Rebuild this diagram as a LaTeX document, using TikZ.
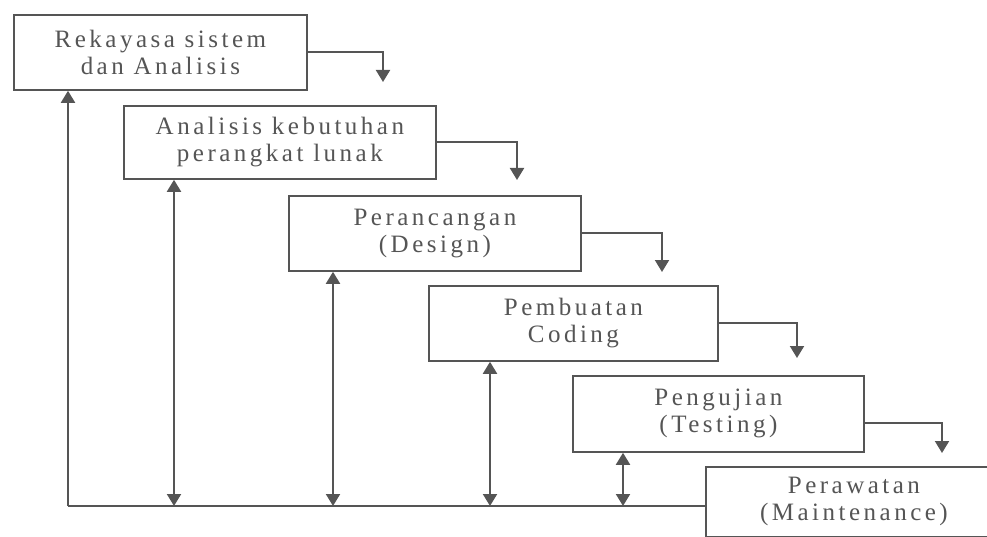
\documentclass[tikz,border=0pt]{standalone}
\usepackage{fontspec}
\setmainfont{Liberation Serif}
\newfontfamily\boxfont[LetterSpace=14]{Liberation Serif}
\usetikzlibrary{arrows.meta}
\definecolor{ink}{HTML}{555555}
\definecolor{txt}{HTML}{555555}
\begin{document}
\begin{tikzpicture}[x=1pt,y=-1pt,
  phase/.style={draw=ink, line width=1.8pt, fill=white, anchor=north west,
    inner sep=0pt, align=center, text=txt,
    font=\boxfont\fontsize{25}{27}\selectfont},
  flow/.style={draw=ink, line width=2pt,
    -{Triangle[width=14pt,length=12pt]}},
  both/.style={draw=ink, line width=2pt,
    {Triangle[width=14pt,length=12pt]}-{Triangle[width=14pt,length=12pt]}},
  link/.style={draw=ink, line width=2pt}]
\useasboundingbox (0,0) rectangle (987,537);
\clip (0,0) rectangle (987,537);

% the six phases, stepping down to the right
\node[phase, minimum width=293pt, minimum height=75pt] (b1) at (13,14)
  {Rekayasa sistem\\dan Analisis};
\node[phase, minimum width=312pt, minimum height=73pt] (b2) at (123,105)
  {Analisis kebutuhan\\perangkat lunak};
\node[phase, minimum width=292pt, minimum height=75pt] (b3) at (288,195)
  {Perancangan\\(Design)};
\node[phase, minimum width=289pt, minimum height=75pt] (b4) at (428,285)
  {Pembuatan\\Coding};
\node[phase, minimum width=291pt, minimum height=76pt] (b5) at (572,375)
  {Pengujian\\(Testing)};
\node[phase, minimum width=296pt, minimum height=70pt] (b6) at (705,466)
  {Perawatan\\(Maintenance)};

% arrow tips of the downward steps
\coordinate (t1) at (383,82);
\coordinate (t2) at (517,180);
\coordinate (t3) at (662,272);
\coordinate (t4) at (797,358);
\coordinate (t5) at (942,453);

\draw[flow] (b1.east) -| (t1);
\draw[flow] (b2.east) -| (t2);
\draw[flow] (b3.east) -| (t3);
\draw[flow] (b4.east) -| (t4);
\draw[flow] ([yshift=-9pt]b5.east) -| (t5);

% feedback line along the bottom
\coordinate (base) at (68,506);
\coordinate (p2) at (174,506);
\coordinate (p3) at (333,506);
\coordinate (p4) at (490,506);
\coordinate (p5) at (623,506);

\draw[link] (b6.west |- base) -- (base);
\draw[flow] (base) -- (base |- b1.south);
\draw[both] (p2 |- b2.south) -- (p2);
\draw[both] (p3 |- b3.south) -- (p3);
\draw[both] (p4 |- b4.south) -- (p4);
\draw[both] (p5 |- b5.south) -- (p5);
\end{tikzpicture}
\end{document}
